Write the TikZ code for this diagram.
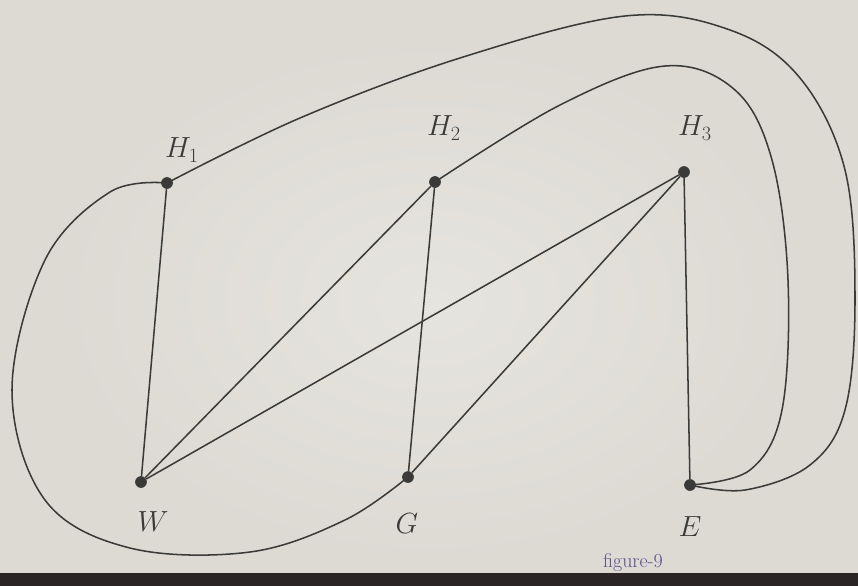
\documentclass[tikz,border=0pt]{standalone}
\usepackage{amsmath,amssymb}
\usepackage{tikz}
\usepackage{xcolor}
\definecolor{paper}{HTML}{DCDAD3}
\definecolor{paperlight}{HTML}{E6E4DE}
\definecolor{pencil}{HTML}{3A3A38}
\definecolor{ink}{HTML}{5B4F8C}
\definecolor{table}{HTML}{2B2424}
\tikzset{
  vtx/.style={circle,fill=pencil,inner sep=0pt,minimum size=10pt},
  lbl/.style={font=\fontsize{24}{28}\selectfont,text=pencil,inner sep=1pt},
  edge/.style={pencil,line width=1.3pt}
}

\begin{document}
\begin{tikzpicture}[x=0.03cm,y=-0.03cm]
  \useasboundingbox (0,0) rectangle (858,586);
  \fill[paper] (0,0) rectangle (858,586);
  \shade[inner color=paperlight,outer color=paper] (60,40) rectangle (800,560);
  \fill[table] (0,573) rectangle (858,586);
  % vertices
  \node[vtx] (h1) at (167,183) {};
  \node[vtx] (h2) at (435,182) {};
  \node[vtx] (h3) at (684,172) {};
  \node[vtx] (w) at (141,482) {};
  \node[vtx] (g) at (408,477) {};
  \node[vtx] (e) at (690,485) {};
  % labels
  \node[lbl] (lh1) at (182,150) {$H_1$};
  \node[lbl] (lh2) at (444,128) {$H_2$};
  \node[lbl] (lh3) at (695,128) {$H_3$};
  \node[lbl] (lw) at (153,522) {$W$};
  \node[lbl] (lg) at (407,524) {$G$};
  \node[lbl] (le) at (690,527) {$E$};
  \node[font=\fontsize{17}{20}\selectfont,text=ink] (fig) at (633,563) {figure-9};
  % straight edges
  \foreach \a/\b in {h1/w,h2/w,h3/w,h2/g,h3/g,h3/e}
    \draw[edge] (\a) -- (\b);
  % curved edges
  \draw[edge] plot[smooth,tension=0.6] coordinates {
    (h1) (300,118) (460,58) (625,16) (730,30) (800,78)
    (845,170) (855,300) (845,410) (810,465) (745,490) (690,485)};
  \draw[edge] plot[smooth,tension=0.6] coordinates {
    (h2) (560,105) (665,66) (735,90) (772,160) (788,280)
    (782,410) (750,470) (690,485)};
  \draw[edge] plot[smooth,tension=0.6] coordinates {
    (h1) (110,192) (45,260) (12,390) (45,500) (130,548)
    (250,552) (345,520) (408,477)};
\end{tikzpicture}
\end{document}
